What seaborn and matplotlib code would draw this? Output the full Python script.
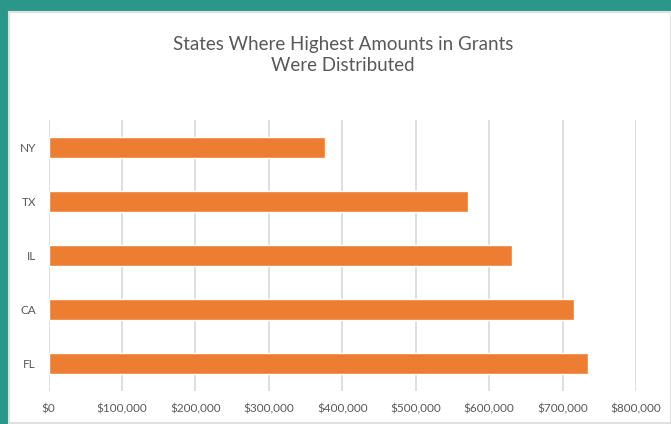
import matplotlib
matplotlib.use("Agg")
import matplotlib.pyplot as plt
from matplotlib.patches import Rectangle
from matplotlib.ticker import FuncFormatter
import seaborn as sns
import pandas as pd

# === DATA ===
states = ["NY", "TX", "IL", "CA", "FL"]
grant_amounts = [376000, 571000, 631000, 715000, 734000]
x_ticks = [0, 100000, 200000, 300000, 400000, 500000, 600000, 700000, 800000]

df = pd.DataFrame({"state": states, "amount": grant_amounts})

# === STYLE ===
sns.set_theme(style="white")
plt.rcParams["font.family"] = ["Lato", "DejaVu Sans"]
text_color = "#595959"
grid_color = "#D9D9D9"
bar_color = "#ED7D31"
teal = "#2A978A"

fig = plt.figure(figsize=(6.71, 4.24), dpi=100)
fig.patch.set_facecolor(teal)

# white chart panel inside the teal frame
W, H = 671, 424
panel = Rectangle((9 / W, 1 / H), 1 - 9 / W, 1 - 13 / H, transform=fig.transFigure,
                  facecolor="white", edgecolor="#E0E0E0", linewidth=1.5, zorder=-5)
fig.patches.append(panel)

ax = fig.add_axes([48.5 / W, 1 - 391 / H, (636 - 48.5) / W, (391 - 120) / H])
ax.set_facecolor("none")

sns.barplot(data=df, x="amount", y="state", orient="h", color=bar_color,
            width=0.39, saturation=1, ax=ax, zorder=3)

ax.set_xlim(0, 800000)
ax.set_xticks(x_ticks)
ax.xaxis.set_major_formatter(FuncFormatter(lambda v, p: f"${v:,.0f}"))
ax.grid(axis="x", color=grid_color, linewidth=1.2, zorder=0)
ax.set_axisbelow(True)
for s in ax.spines.values():
    s.set_visible(False)

ax.tick_params(axis="x", length=0, pad=9, labelsize=8.5, labelcolor=text_color)
ax.tick_params(axis="y", length=0, pad=9, labelsize=8.5, labelcolor=text_color)
ax.set_xlabel("")
ax.set_ylabel("")

fig.text(343 / W, 1 - 55 / H, "States Where Highest Amounts in Grants\nWere Distributed",
         ha="center", va="center", fontsize=13.5, color=text_color, linespacing=1.25)

fig.savefig("out.png", dpi=100, facecolor=fig.get_facecolor())
